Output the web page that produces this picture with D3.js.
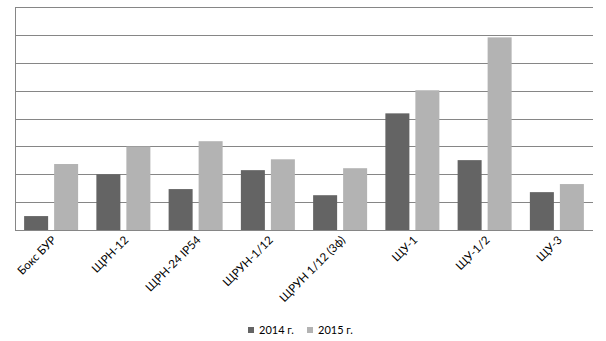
<!DOCTYPE html>
<html><head><meta charset="utf-8">
<script src="https://cdn.jsdelivr.net/npm/d3@7"></script>
<style>body{margin:0;background:#fff}svg{display:block}</style>
</head><body>
<script>
const categories = ["Бокс БУР","ЩРН-12","ЩРН-24 IP54","ЩРУН-1/12","ЩРУН 1/12 (3ф)","ЩУ-1","ЩУ-1/2","ЩУ-3"];
const series = ["2014 г.","2015 г."];
const values2014 = [0.5, 2.0, 1.47, 2.15, 1.25, 4.19, 2.51, 1.36];
const values2015 = [2.37, 3.0, 3.19, 2.54, 2.22, 5.02, 6.92, 1.65];
const yTicks = [0,1,2,3,4,5,6,7,8];
const colors = ["#646464","#b3b3b3"];

const W=606,H=341;
const m={l:15,r:13,t:7.3,b:111};
const svg=d3.select("body").append("svg").attr("width",W).attr("height",H);
const x=d3.scaleBand().domain(categories).range([m.l,W-m.r]).paddingInner(0).paddingOuter(0);
const y=d3.scaleLinear().domain([0,8]).range([H-m.b,m.t]);
const font="Lato, 'Liberation Sans', sans-serif";

svg.append("g").selectAll("line").data(yTicks).join("line")
  .attr("x1",m.l).attr("x2",W-m.r).attr("y1",d=>Math.round(y(d))+0.5).attr("y2",d=>Math.round(y(d))+0.5)
  .attr("stroke","#868686").attr("stroke-width",1);
svg.append("line").attr("x1",m.l+0.5).attr("x2",m.l+0.5).attr("y1",Math.round(y(8))).attr("y2",Math.round(y(0))+0.5)
  .attr("stroke","#868686");

const bw=24, gap=6;
const data=[values2014,values2015];
data.forEach((vals,si)=>{
  svg.append("g").selectAll("rect").data(vals).join("rect")
    .attr("x",(d,i)=>x(categories[i])+x.bandwidth()/2-(bw+gap/2)+si*(bw+gap))
    .attr("width",bw)
    .attr("y",d=>y(d))
    .attr("height",d=>y(0)-y(d))
    .attr("fill",colors[si]);
});

const xAxis=svg.append("g").attr("transform",`translate(0,${y(0)})`);
xAxis.selectAll("text").data(categories).join("text")
  .attr("transform",d=>`translate(${x(d)+x.bandwidth()/2+3},${8}) rotate(-45)`)
  .attr("text-anchor","end").attr("dy","0.35em")
  .attr("font-family",font).attr("font-size",11.5).attr("fill","#000")
  .text(d=>d);

const leg=svg.append("g");
const legX=[248,307];
series.forEach((s,i)=>{
  leg.append("rect").attr("x",legX[i]).attr("y",327).attr("width",6).attr("height",6).attr("fill",colors[i]);
  leg.append("text").attr("x",legX[i]+11).attr("y",334).attr("font-family",font).attr("font-size",11).attr("fill","#000").text(s);
});
</script>
</body></html>
